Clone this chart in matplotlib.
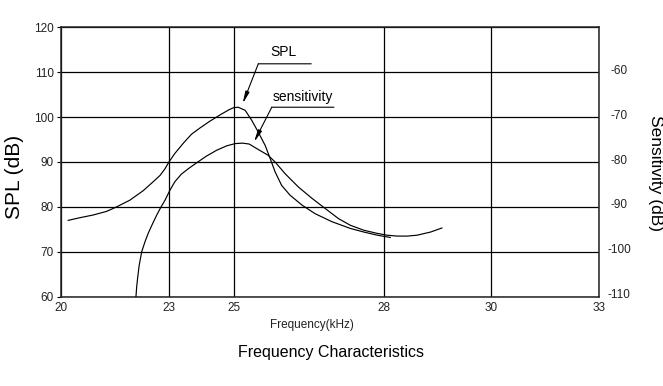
import numpy as np
import matplotlib
matplotlib.use("Agg")
import matplotlib.pyplot as plt
from matplotlib.transforms import ScaledTranslation

plt.rcParams['font.family'] = ['Liberation Sans', 'DejaVu Sans']
plt.rcParams['axes.unicode_minus'] = False

# ---- data ----
freq_ticks = [20, 23, 25, 28, 30, 33]
freq_tick_pos = [0.0, 0.2, 0.322, 0.6, 0.8, 1.0]   # uneven printed frequency scale
spl_ticks = [60, 70, 80, 90, 100, 110, 120]
sens_ticks = [-110, -100, -90, -80, -70, -60]

spl_freq = [20.20, 20.53, 20.90, 21.27, 21.55, 21.92, 22.29, 22.57, 22.76, 22.90, 23.01,
            23.19, 23.45, 23.70, 23.96, 24.26, 24.57, 24.83, 24.98, 25.08,
            25.22, 25.35, 25.48, 25.62, 25.72, 25.82, 25.95, 26.12, 26.36, 26.62,
            26.96, 27.33, 27.60, 27.87, 28.12]
spl_db = [77.0, 77.6, 78.2, 79.0, 80.0, 81.5, 83.6, 85.6, 87.0, 88.5, 90.0,
          91.9, 94.2, 96.2, 97.6, 99.1, 100.5, 101.6, 102.1, 102.2,
          101.5, 99.3, 96.7, 93.7, 90.8, 87.8, 84.8, 82.6, 80.4, 78.5,
          76.7, 75.2, 74.4, 73.7, 73.2]

sens_freq = [22.09, 22.11, 22.14, 22.18, 22.25, 22.34, 22.43, 22.55, 22.67, 22.79, 22.90,
             23.04, 23.19, 23.39, 23.60, 23.85, 24.15, 24.46, 24.77, 25.02, 25.17,
             25.30, 25.48, 25.68, 25.82, 26.02, 26.29, 26.56, 26.83, 27.09, 27.33,
             27.60, 27.87, 28.06, 28.25, 28.44, 28.62, 28.87, 29.08]
sens_db = [-110.0, -107.8, -105.6, -103.0, -100.0, -97.8, -95.9, -93.8, -91.8, -90.0, -88.5,
           -86.3, -84.4, -82.7, -81.5, -80.2, -78.7, -77.4, -76.4, -75.9, -75.8,
           -76.0, -77.2, -78.5, -80.0, -82.6, -85.6, -88.1, -90.4, -92.6, -94.1,
           -95.2, -95.9, -96.3, -96.5, -96.5, -96.3, -95.6, -94.7]

# ---- figure ----
fig = plt.figure(figsize=(6.63, 3.86), dpi=100)
ax = fig.add_axes([61/663, 89.3/386, 538/663, 269.4/386])

fwd = lambda x: np.interp(x, freq_ticks, freq_tick_pos)
inv = lambda p: np.interp(p, freq_tick_pos, freq_ticks)
ax.set_xscale('function', functions=(fwd, inv))
ax.set_xlim(20, 33)
ax.set_ylim(60, 120)
ax.set_xticks(freq_ticks)
ax.set_xticklabels([str(v) for v in freq_ticks])
ax.set_yticks(spl_ticks)
ax.grid(True, color='black', lw=0.9)
ax.set_axisbelow(True)
for s in ax.spines.values():
    s.set_linewidth(1.1)
    s.set_color('#222222')
ax.tick_params(axis='x', length=0, pad=4, labelsize=8.5, labelcolor='#222222')
ax.tick_params(axis='y', length=3, pad=2, labelsize=8.5, labelcolor='#222222')

ax.plot(spl_freq, spl_db, color='black', lw=0.85)

ax2 = ax.twinx()
ax2.set_ylim(-110, -50)
ax2.set_yticks(sens_ticks)
ax2.tick_params(axis='y', length=0, pad=14.5, labelsize=8.5, labelcolor='#222222')
for s in ax2.spines.values():
    s.set_visible(False)
ax2.plot(sens_freq, sens_db, color='black', lw=0.85)
off = ScaledTranslation(0, 3/100, fig.dpi_scale_trans)
for lab in ax2.get_yticklabels():
    lab.set_ha('center')
    lab.set_transform(lab.get_transform() + off)

# annotations
arrow = dict(arrowstyle='-|>,head_length=0.7,head_width=0.12', color='black', lw=0.8,
             shrinkA=0, shrinkB=0)
line = dict(arrowstyle='-', color='black', lw=0.8, shrinkA=0, shrinkB=0)
ax.text(25.985, 114.4, 'SPL', fontsize=10, ha='center', va='center')
ax.annotate('', xy=(26.544, 111.87), xytext=(25.483, 111.87), arrowprops=line)
ax.annotate('', xy=(25.169, 102.98), xytext=(25.483, 111.87), arrowprops=arrow)
ax.text(26.385, 104.4, 'sensitivity', fontsize=10, ha='center', va='center')
ax.annotate('', xy=(27.0, 102.2), xytext=(25.753, 102.2), arrowprops=line)
ax.annotate('', xy=(25.397, 94.44), xytext=(25.753, 102.2), arrowprops=arrow)

# labels
fig.text(14/663, 1 - 177/386, 'SPL (dB)', rotation=90, ha='center', va='center', fontsize=15)
fig.text(655/663, 1 - 173/386, 'Sensitivity (dB)', rotation=270, ha='center', va='center', fontsize=12.5)
fig.text(312/663, 1 - 325/386, 'Frequency(kHz)', ha='center', va='center', fontsize=8.5, color='#222222')
fig.text(331/663, 1 - 353/386, 'Frequency Characteristics', ha='center', va='center', fontsize=11.5)

fig.savefig('out.png', dpi=100)
